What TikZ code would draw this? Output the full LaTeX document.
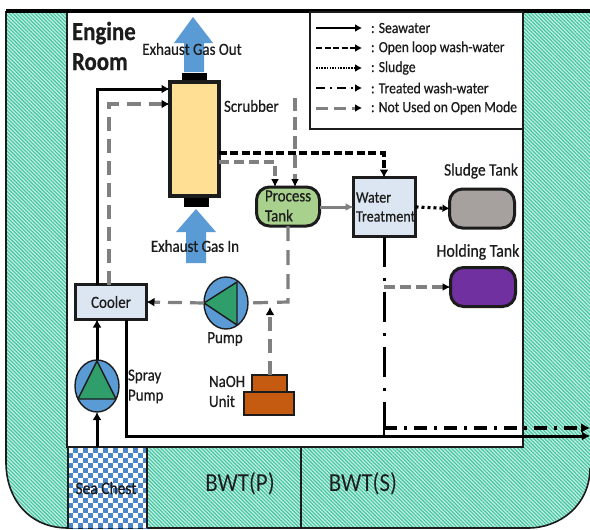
\documentclass[tikz,border=0pt]{standalone}
\usepackage{fontspec}
\setmainfont[FakeStretch=0.88,FakeBold=0.6]{Carlito}
\newfontfamily\bwtfont[FakeStretch=0.88]{Carlito}
\usetikzlibrary{arrows.meta,patterns.meta,shapes.geometric,calc}
\definecolor{inkc}{HTML}{1C1C1C}
\definecolor{tealstripe}{HTML}{45C4A3}
\definecolor{tealbase}{HTML}{BDEEDF}
\definecolor{flowblue}{HTML}{5B9BD5}
\definecolor{boxblue}{HTML}{DCE6F2}
\definecolor{pumpgreen}{HTML}{2F9E6A}
\definecolor{tankgreen}{HTML}{A9D18E}
\definecolor{yellowfill}{HTML}{FFDF93}
\definecolor{greytank}{HTML}{A6A09E}
\definecolor{purplefill}{HTML}{7030A0}
\definecolor{orangefill}{HTML}{C55A11}
\definecolor{lineg}{HTML}{808080}
\definecolor{chestblue}{HTML}{4A86C8}
\tikzset{
  lab/.style={font=\fontsize{17}{19}\selectfont,text=inkc,inner sep=0pt,outer sep=0pt,align=left},
  leglab/.style={lab,font=\fontsize{15.5}{17}\selectfont},
  boxnode/.style={draw=inkc,line width=3.6pt,fill=boxblue,inner sep=0pt,outer sep=0pt,rectangle},
  tanknode/.style={draw=inkc,line width=3pt,inner sep=0pt,outer sep=0pt,rectangle,rounded corners=13pt},
  pumpnode/.style={draw=inkc,line width=1.4pt,fill=flowblue,ellipse,inner sep=0pt,outer sep=0pt,minimum width=44pt,minimum height=52pt},
  tri/.style={draw=inkc,line width=1.4pt,fill=pumpgreen,line join=round},
  tipk/.style={-{Latex[length=8pt,width=9pt]}},
  seaflow/.style={draw=black,line width=3pt,tipk},
  openflow/.style={draw=black,line width=3.2pt,dash pattern=on 8pt off 3.5pt,tipk},
  notused/.style={draw=lineg,line width=3.2pt,dash pattern=on 14pt off 8pt,tipk,line join=miter},
  sludgeflow/.style={draw=black,line width=3.2pt,dash pattern=on 3pt off 3pt,tipk},
  gas/.style={fill=flowblue,draw=none},
  hullshape/.style={pattern={Lines[angle=-45,distance=2.6pt,line width=1.1pt]},pattern color=tealstripe},
}
\begin{document}
\begin{tikzpicture}[x=1pt,y=-1pt]
\useasboundingbox (0,0) rectangle (590,530);
% hull
\path[fill=tealbase] (6,11) -- (590,11) -- (590,468) .. controls (590,505) and (560,528) .. (528,528) -- (68,528) .. controls (30,528) and (6,500) .. (6,462) -- cycle;
\path[hullshape] (6,11) -- (590,11) -- (590,468) .. controls (590,505) and (560,528) .. (528,528) -- (68,528) .. controls (30,528) and (6,500) .. (6,462) -- cycle;
\draw[inkc,line width=1.6pt] (590,468) .. controls (590,505) and (560,528) .. (528,528) -- (68,528) .. controls (30,528) and (6,500) .. (6,462) -- (6,11);
% engine room
\fill[white] (67,11) rectangle (523,447);
\draw[inkc,line width=1.8pt] (67,11) -- (67,447) -- (523,447) -- (523,11);
\draw[black,line width=4.4pt] (6,11) -- (590,11);
% sea chest
\fill[white] (68,448) rectangle (147,528);
\begin{scope}
\clip (68,448) rectangle (147,528);
\foreach \i in {0,...,16}{\foreach \j in {0,...,16}{
  \ifodd\numexpr\i+\j\relax
    \fill[chestblue] ({68+5*\i},{448+5*\j}) rectangle ++(5,5);
  \fi}}
\end{scope}
\draw[inkc,line width=1.6pt] (147,447) -- (147,528) (68,447) -- (68,528);
\draw[inkc,line width=1.4pt] (301,447) -- (301,528);
\node[lab,font=\fontsize{17.6}{19}\selectfont] (chest) at (106,488) {Sea Chest};
\node[lab,font=\bwtfont\fontsize{26}{28}\selectfont] (bwtp) at (240,484) {BWT(P)};
\node[lab,font=\bwtfont\fontsize{26}{28}\selectfont] (bwts) at (363,484) {BWT(S)};
% legend box
\draw[inkc,line width=1.2pt,fill=white] (310,12) rectangle (523,129);
\node[leglab,anchor=west] (l1) at (371,28) {: Seawater};
\node[leglab,anchor=west] (l2) at (371,48) {: Open loop wash-water};
\node[leglab,anchor=west] (l3) at (371,68) {: Sludge};
\node[leglab,anchor=west] (l4) at (371,88) {: Treated wash-water};
\node[leglab,anchor=west] (l5) at (371,108) {: Not Used on Open Mode};
\foreach \r/\y in {1/28,2/48,3/68,4/88,5/108}{
  \coordinate (a\r) at (316,\y);
  \coordinate (b\r) at (362,\y);
}
\draw[black,line width=2pt,-{Latex[length=7pt,width=8pt]}] (a1) -- (b1);
\draw[black,line width=2.6pt,dash pattern=on 6pt off 2.5pt,-{Latex[length=7pt,width=8pt]}] (a2) -- (b2);
\draw[black,line width=2pt,dash pattern=on 1.5pt off 1.2pt,-{Latex[length=7pt,width=8pt]}] (a3) -- (b3);
\draw[black,line width=2.6pt,dash pattern=on 9pt off 5pt on 2pt off 5pt,-{Latex[length=7pt,width=8pt]}] (a4) -- (b4);
\draw[lineg,line width=3pt,dash pattern=on 12pt off 6pt,-{Latex[length=7pt,width=8pt,black]}] (a5) -- (b5);
% gas arrows
\fill[gas] (193,17) -- (213,43) -- (204,43) -- (204,72) -- (184,72) -- (184,43) -- (174,43) -- cycle;
\fill[gas] (196,209) -- (216,232) -- (206,232) -- (206,263) -- (186,263) -- (186,232) -- (176,232) -- cycle;
% scrubber
\fill[black] (182,73) rectangle (207,81);
\fill[black] (184,196) rectangle (209,207);
\node[boxnode,fill=yellowfill,line width=4pt,minimum width=49pt,minimum height=114pt] (scrub) at (194,138.5) {};
% equipment
\node[boxnode,minimum width=71pt,minimum height=35pt,font=\fontsize{17}{19}\selectfont,text=inkc] (cooler) at (111,302) {Cooler};
\node[boxnode,minimum width=62pt,minimum height=59pt] (wt) at (384.5,207) {};
\node[lab,anchor=west,font=\fontsize{16}{18}\selectfont] (wtlabel) at (356,207) {Water\\[1pt]Treatment};
\node[tanknode,fill=tankgreen,minimum width=63pt,minimum height=39pt] (ptank) at (288,206.5) {};
\node[lab,anchor=west] (ptlabel) at (265,206) {Process\\[1pt]Tank};
\node[tanknode,fill=greytank,minimum width=65pt,minimum height=39pt] (stank) at (482,208.5) {};
\node[tanknode,fill=purplefill,minimum width=65pt,minimum height=39pt] (htank) at (483,287) {};
\node[pumpnode] (pump) at (226,303) {};
\draw[tri] (204,303) -- (237,282) -- (237,325) -- cycle;
\node[pumpnode] (spray) at (97,386) {};
\draw[tri] (97,361) -- (116,399) -- (78,399) -- cycle;
\node[rectangle,draw=inkc,line width=1.6pt,fill=orangefill,minimum width=35pt,minimum height=17pt,inner sep=0pt,outer sep=0pt] (naohtop) at (269.5,383.5) {};
\node[rectangle,draw=inkc,line width=1.6pt,fill=orangefill,minimum width=50pt,minimum height=23pt,inner sep=0pt,outer sep=0pt] (naohbase) at (269,403.5) {};
% coordinates for bends
\coordinate (sw1) at (97,89);
\coordinate (sw1e) at (scrub.west |- sw1);
\coordinate (nu1) at (109,104);
\coordinate (nu1e) at (scrub.west |- nu1);
\coordinate (nu1s) at (cooler.north -| nu1);
\coordinate (nu2s) at (scrub.east |- 0,162);
\coordinate (nu2b) at (275,162);
\coordinate (nu2e) at (ptank.north -| nu2b);
\coordinate (nu3s) at (295,98);
\coordinate (nu3e) at (ptank.north -| nu3s);
\coordinate (op1s) at (scrub.east |- 0,153);
\coordinate (op1b) at (384,153);
\coordinate (op1e) at (wt.north -| op1b);
\coordinate (pj) at (288,302);
\coordinate (pts) at (ptank.south -| pj);
\coordinate (njt) at (270,307);
\coordinate (njs) at (naohtop.north -| njt);
\coordinate (hj) at (384,287);
\coordinate (tb) at (384,428);
\coordinate (te) at (590,428);
\coordinate (ws) at (wt.south -| tb);
\coordinate (sob) at (126,436);
\coordinate (sos) at (cooler.south -| sob);
\coordinate (soe) at (590,436);
\coordinate (cj) at (97,283);
\coordinate (seain) at (97,447);
% connectors
\draw[seaflow] (cooler.north -| cj) -- (sw1) -- (sw1e);
\draw[notused,-{Latex[length=8pt,width=9pt,black]}] (nu1s) -- (nu1) -- (nu1e);
\draw[notused,dash pattern=on 10pt off 5pt,-{Latex[length=8pt,width=8pt,black]}] (nu2s) -- (nu2b) -- (nu2e);
\draw[notused,dash pattern=on 13pt off 6pt,-{Latex[length=8pt,width=8pt,black]}] (nu3s) -- (nu3e);
\draw[openflow,-{Latex[length=8pt,width=9pt]}] (op1s) -- (op1b) -- (op1e);
\draw[lineg,line width=3.2pt,dash pattern=on 15pt off 9pt] (pts) -- (pj) -- (pump.east);
\draw[notused,-{Latex[length=8pt,width=9pt,black]}] (pump.west) -- (cooler.east);
\draw[notused,-{Latex[length=8pt,width=9pt,black]}] (njs) -- (njt);
\draw[lineg,line width=3pt,-{Latex[length=8pt,width=8pt]}] (ptank.east |- wt.west) -- (wt.west);
\draw[sludgeflow,-{Latex[length=7pt,width=8pt]}] (wt.east) -- (stank.west);
\draw[notused,dash pattern=on 11pt off 5pt,-{Latex[length=8pt,width=8pt,black]}] (hj) -- (htank.west);
\draw[black,line width=3pt,dash pattern=on 30pt off 11pt on 3pt off 11pt] (ws) -- (tb);
\draw[black,line width=3.2pt,dash pattern=on 13pt off 7pt on 3pt off 7pt,-{Latex[length=9pt,width=10pt]}] (tb) -- (te);
\draw[seaflow] (sos) -- (sob) -- (soe);
\draw[black,line width=2.6pt] (tb) -- (sob -| tb);
\draw[seaflow] (spray.north) -- (cooler.south -| spray);
\draw[seaflow] (seain) -- (spray.south);
% labels
\node[lab] (gasout) at (192,49) {Exhaust Gas Out};
\node[lab] (gasin) at (195,246) {Exhaust Gas In};
\node[lab,anchor=west] (scl) at (224,106) {Scrubber};
\node[lab,anchor=west,font=\bfseries\fontsize{26}{30}\selectfont] (er) at (72,46) {Engine\\Room};
\node[lab,font=\fontsize{17.5}{19}\selectfont] (slab) at (481,171) {Sludge Tank};
\node[lab,font=\fontsize{18}{20}\selectfont] (hlab) at (478,252) {Holding Tank};
\node[lab] (plab) at (225,339) {Pump};
\node[lab,anchor=west] (splab) at (128,386.5) {Spray\\[1pt]Pump};
\node[lab,anchor=west] (nlab) at (209,391.5) {NaOH\\[1pt]Unit};
\end{tikzpicture}
\end{document}
